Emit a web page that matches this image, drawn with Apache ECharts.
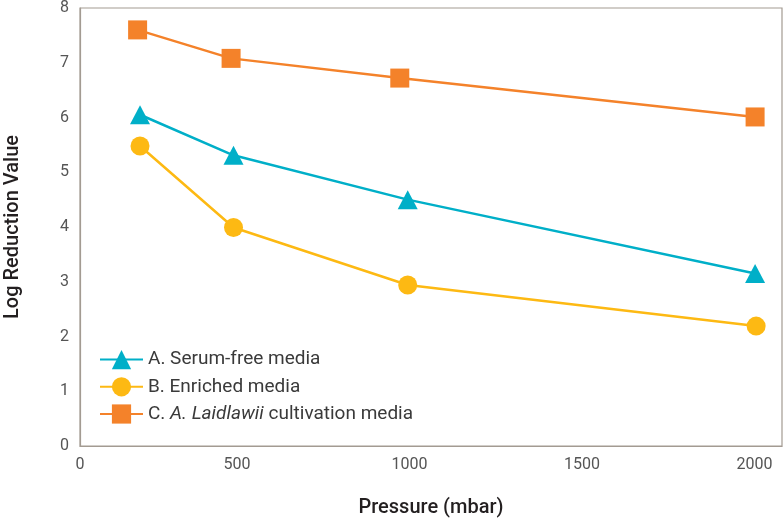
<!DOCTYPE html>
<html>
<head>
<meta charset="utf-8">
<script src="https://cdn.jsdelivr.net/npm/echarts@6/dist/echarts.min.js"></script>
<style>
html,body{margin:0;padding:0;background:#fff;}
#chart{width:783px;height:519px;}
</style>
</head>
<body>
<div id="chart"></div>
<script>
// Data
const seriesNames = ['A. Serum-free media', 'B. Enriched media', 'C. A. Laidlawii cultivation media'];
const pressureA = [219, 490, 995, 2002];
const valuesA = [6.05, 5.31, 4.50, 3.15];
const pressureB = [219, 490, 995, 2005];
const valuesB = [5.48, 3.99, 2.94, 2.19];
const pressureC = [212, 483, 972, 2002];
const valuesC = [7.60, 7.08, 6.72, 6.01];
const xTickLabels = ['0', '500', '1000', '1500', '2000'];
const xMin = 45, xMax = 2080;
const yMin = 0, yMax = 8;

const pairs = (xs, ys) => xs.map((x, i) => [x, ys[i]]);
const colors = ['#00AFC8', '#FDB913', '#F4822A'];
const symbols = ['triangle', 'circle', 'rect'];

const chart = echarts.init(document.getElementById('chart'));
const fontFam = 'Roboto, "DejaVu Sans", sans-serif';

chart.setOption({
  animation: false,
  backgroundColor: '#ffffff',
  grid: {
    left: 80, right: 1, top: 8, bottom: 73,
    outerBoundsMode: 'none', containLabel: false,
    show: true, borderColor: '#A39B92', borderWidth: 1.2, backgroundColor: 'transparent'
  },
  legend: {
    orient: 'vertical',
    left: 94, top: 345,
    itemWidth: 43, itemHeight: 24, itemGap: 8,
    data: seriesNames,
    textStyle: {
      fontFamily: fontFam, fontSize: 19, color: '#3a3a3a',
      rich: {
        n: {fontFamily: fontFam, fontSize: 19, color: '#3a3a3a'},
        i: {fontFamily: fontFam, fontSize: 19, color: '#3a3a3a', fontStyle: 'italic'}
      }
    },
    formatter: function (name) {
      if (name.indexOf('C. A. Laidlawii') === 0) {
        return '{n|C. }{i|A. Laidlawii}{n| cultivation media}';
      }
      return '{n|' + name + '}';
    }
  },
  xAxis: {
    type: 'value', min: xMin, max: xMax,
    name: 'Pressure (mbar)', nameLocation: 'middle', nameGap: 52,
    nameTextStyle: {fontFamily: fontFam, fontSize: 20, fontWeight: 500, color: '#231f20'},
    axisLine: {show: true, lineStyle: {color: '#A39B92', width: 1.2}},
    axisTick: {show: false},
    splitLine: {show: false},
    axisLabel: {
      fontFamily: fontFam, fontSize: 16, color: '#555555', margin: 11,
      formatter: function (v) {
        if (v === xMin) return xTickLabels[0];
        const s = String(v);
        return xTickLabels.indexOf(s) >= 0 ? s : '';
      }
    }
  },
  yAxis: {
    type: 'value', min: yMin, max: yMax, interval: 1,
    name: 'Log Reduction Value', nameLocation: 'middle', nameGap: 57, nameRotate: 90,
    nameTextStyle: {fontFamily: fontFam, fontSize: 20, fontWeight: 500, color: '#231f20'},
    axisLine: {show: true, lineStyle: {color: '#A39B92', width: 1.2}},
    axisTick: {show: false},
    splitLine: {show: false},
    axisLabel: {fontFamily: fontFam, fontSize: 16, color: '#555555', margin: 11, padding: [10, 0, 0, 0]}
  },
  series: [
    {name: seriesNames[0], type: 'line', data: pairs(pressureA, valuesA)},
    {name: seriesNames[1], type: 'line', data: pairs(pressureB, valuesB)},
    {name: seriesNames[2], type: 'line', data: pairs(pressureC, valuesC)}
  ].map((s, i) => Object.assign(s, {
    symbol: symbols[i], symbolSize: i === 0 ? [20, 19] : 19,
    color: colors[i],
    itemStyle: {color: colors[i], opacity: 1},
    lineStyle: {color: colors[i], width: 2.5},
    z: 3 + i
  }))
});
</script>
</body>
</html>
